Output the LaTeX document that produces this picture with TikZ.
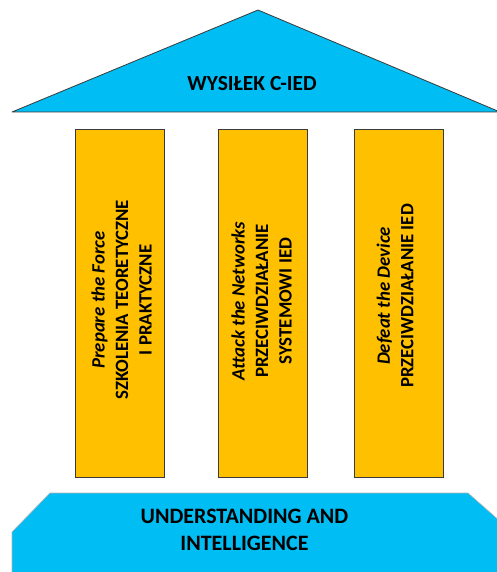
\documentclass[tikz,border=0pt]{standalone}
\usepackage{fontspec}
\setmainfont{Carlito}
\begin{document}
\definecolor{roofblue}{HTML}{00BEF4}
\definecolor{pillargold}{HTML}{FFC000}
\definecolor{edgegray}{HTML}{3A3A3A}
\begin{tikzpicture}[x=1pt,y=-1pt,
  roof/.style={fill=roofblue,draw=edgegray,line width=0.8pt,line join=round},
  plinth/.style={fill=roofblue,draw=gray!60,line width=0.6pt},
  pillar/.style={fill=pillargold,draw=edgegray,line width=0.8pt,minimum width=89pt,minimum height=348pt,inner sep=0pt},
  pillartext/.style={rotate=90,align=center,font=\bfseries\fontsize{18.8}{23.5}\selectfont,inner sep=0pt},
  headtext/.style={align=center,font=\bfseries\fontsize{22}{27}\selectfont,inner sep=0pt}]
  \useasboundingbox (0,0) rectangle (497,572);

  % roof
  \draw[roof] (12,112) -- (258,10) -- (500,112) -- cycle;
  \node[headtext,font=\bfseries\fontsize{21.5}{26}\selectfont] (roof) at (252,83.5) {WYSIŁEK C-IED};

  % pillars
  \node[pillar] (p1) at (119.5,303) {};
  \node[pillar] (p2) at (262.5,303) {};
  \node[pillar] (p3) at (398.5,303) {};

  \node[pillartext] (t1) at (121.5,300) {\textit{Prepare the Force}\\SZKOLENIA TEORETYCZNE\\I PRAKTYCZNE};
  \node[pillartext] (t2) at (261.5,301) {\textit{Attack the Networks}\\PRZECIWDZIAŁANIE\\SYSTEMOWI IED};
  \node[pillartext] (t3) at (395,296) {\textit{Defeat the Device}\\PRZECIWDZIAŁANIE IED};

  % plinth
  \draw[plinth] (12,580) -- (12,532) -- (50,493) -- (468,493) -- (510,530) -- (510,580);
  \node[headtext] (base) at (244.5,529.5) {UNDERSTANDING AND\\INTELLIGENCE};
\end{tikzpicture}
\end{document}
